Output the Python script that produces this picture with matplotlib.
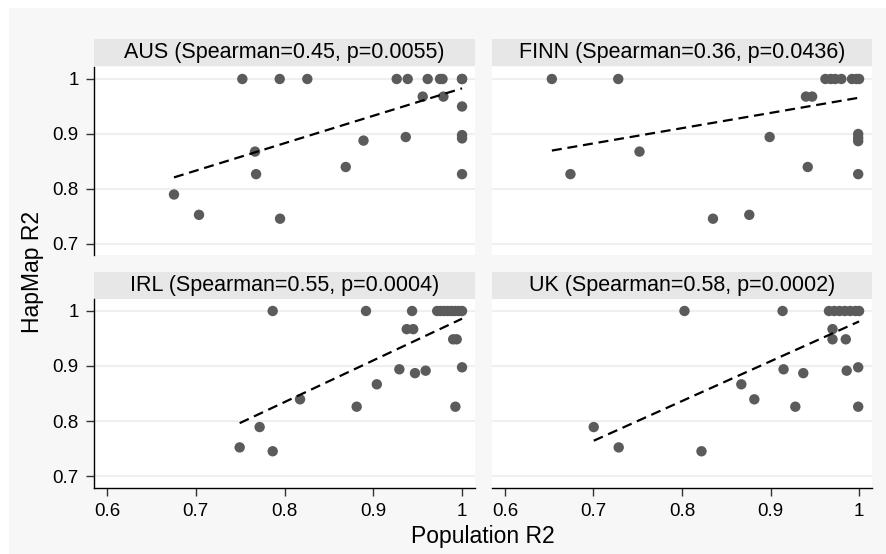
import matplotlib
matplotlib.use("Agg")
import matplotlib.pyplot as plt
import numpy as np

plt.rcParams['font.family'] = ['Liberation Sans', 'DejaVu Sans']

# ---------------- data ----------------
panel_names = ["AUS", "FINN", "IRL", "UK"]
spearman = [0.45, 0.36, 0.55, 0.58]
pvalues = ["0.0055", "0.0436", "0.0004", "0.0002"]

aus_x = [0.7525, 0.7946, 0.8257, 0.9264, 0.9388, 0.9613, 0.9752, 0.978, 1.0, 1.0,
         0.9557, 0.979, 1.0, 0.7668, 0.768, 0.6755, 0.7037, 0.795, 0.869, 0.889,
         0.9366, 1.0, 1.0, 1.0]
aus_y = [1, 1, 1, 1, 1, 1, 1, 1, 1, 1,
         0.968, 0.968, 0.95, 0.868, 0.827, 0.79, 0.753, 0.746, 0.84, 0.888,
         0.8945, 0.898, 0.892, 0.827]

finn_x = [0.653, 0.728, 0.962, 0.968, 0.973, 0.980, 0.992, 0.997, 1.0,
          0.940, 0.947, 0.899, 0.752, 0.674, 0.942, 0.999, 0.999, 0.999, 0.999,
          0.835, 0.876]
finn_y = [1, 1, 1, 1, 1, 1, 1, 1, 1,
          0.968, 0.968, 0.8945, 0.868, 0.827, 0.84, 0.9, 0.893, 0.887, 0.827,
          0.746, 0.753]

irl_x = [0.7867, 0.8918, 0.9437, 0.972, 0.976, 0.98, 0.984, 0.988, 0.992, 0.996, 1.0,
         0.9377, 0.945, 0.990, 0.994, 1.0, 0.9294, 0.947, 0.959, 0.904, 0.8175,
         0.8813, 0.9925, 0.772, 0.7495, 0.7867]
irl_y = [1, 1, 1, 1, 1, 1, 1, 1, 1, 1, 1,
         0.967, 0.967, 0.9485, 0.9485, 0.8976, 0.894, 0.887, 0.8915, 0.8667, 0.8394,
         0.826, 0.826, 0.789, 0.752, 0.745]

uk_x = [0.8028, 0.9136, 0.966, 0.972, 0.978, 0.984, 0.99, 0.996, 1.0,
        0.970, 0.970, 0.985, 0.999, 0.986, 0.9147, 0.937, 0.867, 0.8817, 0.928,
        0.999, 0.7003, 0.7285, 0.822]
uk_y = [1, 1, 1, 1, 1, 1, 1, 1, 1,
        0.967, 0.9485, 0.9485, 0.8976, 0.8915, 0.894, 0.887, 0.8667, 0.8394, 0.826,
        0.826, 0.789, 0.752, 0.745]

# fitted line (slope, intercept)
fit_slope = [0.499, 0.277, 0.758, 0.7236]
fit_intercept = [0.484, 0.689, 0.228, 0.2574]

xticks = [0.6, 0.7, 0.8, 0.9, 1.0]
xtick_labels = ["0.6", "0.7", "0.8", "0.9", "1"]
yticks = [0.7, 0.8, 0.9, 1.0]
ytick_labels = ["0.7", "0.8", "0.9", "1"]

xs = [aus_x, finn_x, irl_x, uk_x]
ys = [aus_y, finn_y, irl_y, uk_y]

# ---------------- layout ----------------
W, H = 887, 554
fig = plt.figure(figsize=(W / 100, H / 100), dpi=100)
fig.patch.set_facecolor("white")

BG = "#f7f7f7"
STRIP = "#e7e7e7"
PT = "#5b5b5b"
GRID = "#efefef"


def rect(x0, y0, x1, y1):
    return [x0 / W, 1 - y1 / H, (x1 - x0) / W, (y1 - y0) / H]


bg = fig.add_axes(rect(9, 8, W, H))
bg.set_facecolor(BG)
bg.set_xticks([]); bg.set_yticks([])
for s in bg.spines.values():
    s.set_visible(False)
bg.set_zorder(-10)

cols = [(94, 475), (492, 872)]
rows = [((39, 66), (67, 255)), ((272, 299), (299, 488))]

for i in range(4):
    r, c = divmod(i, 2)
    (sx0, sx1) = cols[c]
    (st0, st1), (py0, py1) = rows[r]

    sax = fig.add_axes(rect(sx0, st0, sx1, st1))
    sax.set_facecolor(STRIP)
    sax.set_xticks([]); sax.set_yticks([])
    for s in sax.spines.values():
        s.set_visible(False)
    sax.text(0.5, 0.5, f"{panel_names[i]} (Spearman={spearman[i]:.2f}, p={pvalues[i]})",
             ha="center", va="center", fontsize=15.5, transform=sax.transAxes)

    ax = fig.add_axes(rect(sx0, py0, sx1, py1))
    ax.set_facecolor("white")
    ax.set_xlim(0.5854, 1.0146)
    ax.set_ylim(0.6782 if r == 1 else 0.68, 1.0218)
    for yv in yticks:
        ax.axhline(yv, color=GRID, lw=1.5, zorder=0)

    x = np.array(xs[i]); y = np.array(ys[i])
    ax.scatter(x, y, s=56, color=PT, edgecolors="none", zorder=3)
    lx = np.array([x.min(), x.max()])
    ax.plot(lx, fit_intercept[i] + fit_slope[i] * lx, color="black", lw=1.6,
            linestyle=(0, (4.5, 2.6)), zorder=4)

    for s in ["top", "right"]:
        ax.spines[s].set_visible(False)
    ax.spines["left"].set_visible(c == 0)
    ax.spines["bottom"].set_visible(r == 1)
    ax.spines["left"].set_linewidth(1.0)
    ax.spines["bottom"].set_linewidth(1.0)

    if c == 0:
        ax.set_yticks(yticks)
        ax.set_yticklabels(ytick_labels, fontsize=13.5)
        ax.tick_params(axis="y", length=6, width=1.0, pad=5, color="#333333")
    else:
        ax.set_yticks([])
    if r == 1:
        ax.set_xticks(xticks)
        ax.set_xticklabels(xtick_labels, fontsize=13.5)
        ax.tick_params(axis="x", length=6, width=1.0, pad=5, color="#333333")
    else:
        ax.set_xticks([])

fig.text(33 / W, 1 - 272 / H, "HapMap R2", rotation=90, ha="center", va="center", fontsize=16.5)
fig.text(483 / W, 1 - 537 / H, "Population R2", ha="center", va="center", fontsize=16.5)

fig.savefig("out.png", dpi=100, facecolor="white")
